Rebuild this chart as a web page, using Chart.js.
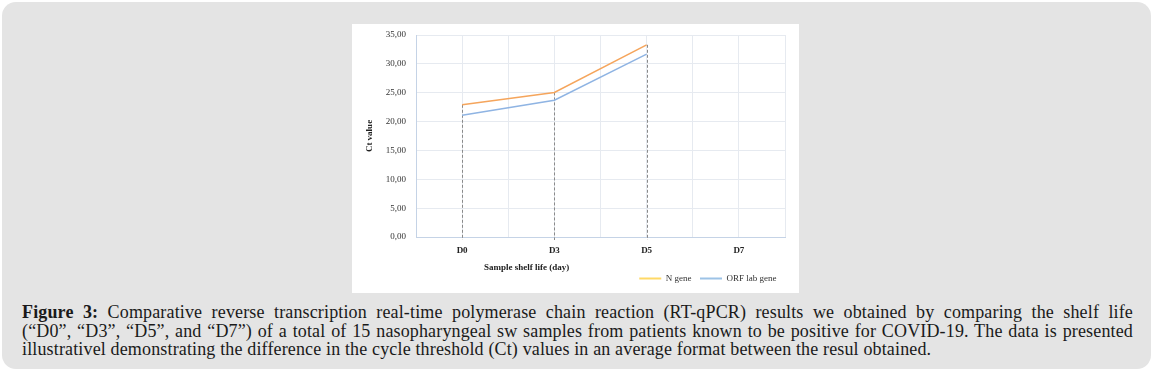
<!DOCTYPE html>
<html>
<head>
<meta charset="utf-8">
<script src="https://cdn.jsdelivr.net/npm/chart.js@4.4.1/dist/chart.umd.min.js"></script>
<style>
  html, body { margin: 0; padding: 0; background: #ffffff; }
  body { width: 1153px; height: 371px; position: relative; overflow: hidden; }
  #card {
    position: absolute; left: 2px; top: 2px; width: 1149px; height: 367px;
    background: #e4e4e4; border-radius: 14px;
  }
  #chartBox {
    position: absolute; left: 352px; top: 24px; width: 447px; height: 269px;
    background: #ffffff;
  }
  #caption {
    position: absolute; left: 22px; top: 303px; width: 1111px;
    font-family: 'Liberation Serif', serif; font-size: 18px; line-height: 18.5px;
    letter-spacing: 0.15px; color: #1a1a1a;
  }
  #caption span { display: block; }
  #caption .j { text-align: justify; text-align-last: justify; }
</style>
</head>
<body>
<div id="card"></div>
<div id="chartBox"><canvas id="ctChart" width="447" height="269"></canvas></div>
<div id="caption">
  <span class="j"><b>Figure 3:</b> Comparative reverse transcription real-time polymerase chain reaction (RT-qPCR) results we obtained by comparing the shelf life</span>
  <span class="j">(“D0”, “D3”, “D5”, and “D7”) of a total of 15 nasopharyngeal sw samples from patients known to be positive for COVID-19. The data is presented</span>
  <span>illustrativel demonstrating the difference in the cycle threshold (Ct) values in an average format between the resul obtained.</span>
</div>
<script>
var categories = ['D0', 'D3', 'D5', 'D7'];
var nGene = [22.9, 25.05, 33.3, null];
var orfGene = [21.1, 23.7, 31.7, null];
var yTicks = [0, 5, 10, 15, 20, 25, 30, 35];

var serif = 'Liberation Serif';

function toPoints(values) {
    return values.map(function (v, i) { return { x: i, y: v }; });
}

// dashed drop lines under the N gene points
var dropLines = {
    id: 'dropLines',
    beforeDatasetsDraw: function (chart) {
        var meta = chart.getDatasetMeta(0);
        var ctx = chart.ctx;
        ctx.save();
        ctx.strokeStyle = '#8a8a8a';
        ctx.lineWidth = 1;
        ctx.setLineDash([3, 2]);
        meta.data.forEach(function (pt, i) {
            if (nGene[i] === null) return;
            var x = Math.round(pt.x) + 0.5;
            ctx.beginPath();
            ctx.moveTo(x, pt.y);
            ctx.lineTo(x, chart.chartArea.bottom + 3);
            ctx.stroke();
        });
        ctx.restore();
    }
};

// x axis title sits left of centre in the original
var xTitle = {
    id: 'xTitle',
    afterDraw: function (chart) {
        var a = chart.chartArea;
        var ctx = chart.ctx;
        ctx.save();
        ctx.font = 'bold 9px ' + serif;
        ctx.fillStyle = '#222';
        ctx.textAlign = 'center';
        ctx.textBaseline = 'middle';
        ctx.fillText('Sample shelf life (day)', a.left + (a.right - a.left) * 0.3, a.bottom + 31);
        ctx.restore();
    }
};

var legendColors = ['#ffd966', '#9dc3e6'];

var datasets = [
    {
        label: 'N gene',
        data: toPoints(nGene),
        borderColor: '#f5a55c',
        backgroundColor: legendColors[0],
        borderWidth: 1.5,
        pointRadius: 0,
        tension: 0,
        fill: false
    },
    {
        label: 'ORF lab gene',
        data: toPoints(orfGene),
        borderColor: '#8fb4e3',
        backgroundColor: legendColors[1],
        borderWidth: 1.5,
        pointRadius: 0,
        tension: 0,
        fill: false
    }
];

var options = {
    responsive: false,
    animation: false,
    layout: { autoPadding: false, padding: { top: 11, right: 14, left: 0, bottom: 0 } },
    plugins: {
        legend: {
            position: 'bottom',
            align: 'end',
            labels: {
                boxWidth: 22,
                boxHeight: 2,
                padding: 4,
                color: '#333',
                font: { family: serif, size: 9 },
                generateLabels: function (chart) {
                    var items = Chart.defaults.plugins.legend.labels.generateLabels(chart);
                    items.forEach(function (it, i) {
                        it.fillStyle = legendColors[i];
                        it.strokeStyle = legendColors[i];
                        it.lineWidth = 0;
                        it.text = it.text + '  ';
                    });
                    return items;
                }
            }
        },
        tooltip: { enabled: false }
    },
    scales: {
        x: {
            type: 'linear',
            min: -0.5,
            max: 3.5,
            afterBuildTicks: function (scale) {
                var t = [];
                for (var v = -0.5; v <= 3.5; v += 0.5) t.push({ value: v });
                scale.ticks = t;
            },
            afterFit: function (scale) { scale.height = 33; },
            grid: { color: '#e6eaf0', drawTicks: false },
            border: { color: '#c5d3e6' },
            ticks: {
                padding: 8,
                autoSkip: false,
                maxRotation: 0,
                color: '#222',
                font: { family: serif, size: 9, weight: 'bold' },
                callback: function (v) {
                    return Number.isInteger(v) ? categories[v] : '';
                }
            }
        },
        y: {
            min: 0,
            max: 35,
            afterBuildTicks: function (scale) {
                scale.ticks = yTicks.map(function (v) { return { value: v }; });
            },
            afterFit: function (scale) {
                scale.width = 64;
                scale.paddingTop = 0;
                scale.paddingBottom = 0;
            },
            grid: { color: '#e6eaf0', drawTicks: false },
            border: { color: '#c5d3e6' },
            title: {
                display: true,
                text: 'Ct value',
                color: '#222',
                font: { family: serif, size: 9, weight: 'bold' },
                padding: { top: 12, bottom: 0 }
            },
            ticks: {
                padding: 10,
                color: '#333',
                font: { family: serif, size: 9 },
                callback: function (v) { return v.toFixed(2).replace('.', ','); }
            }
        }
    }
};

new Chart(document.getElementById('ctChart'), {
    type: 'line',
    data: { datasets: datasets },
    options: options,
    plugins: [dropLines, xTitle]
});
</script>
</body>
</html>
